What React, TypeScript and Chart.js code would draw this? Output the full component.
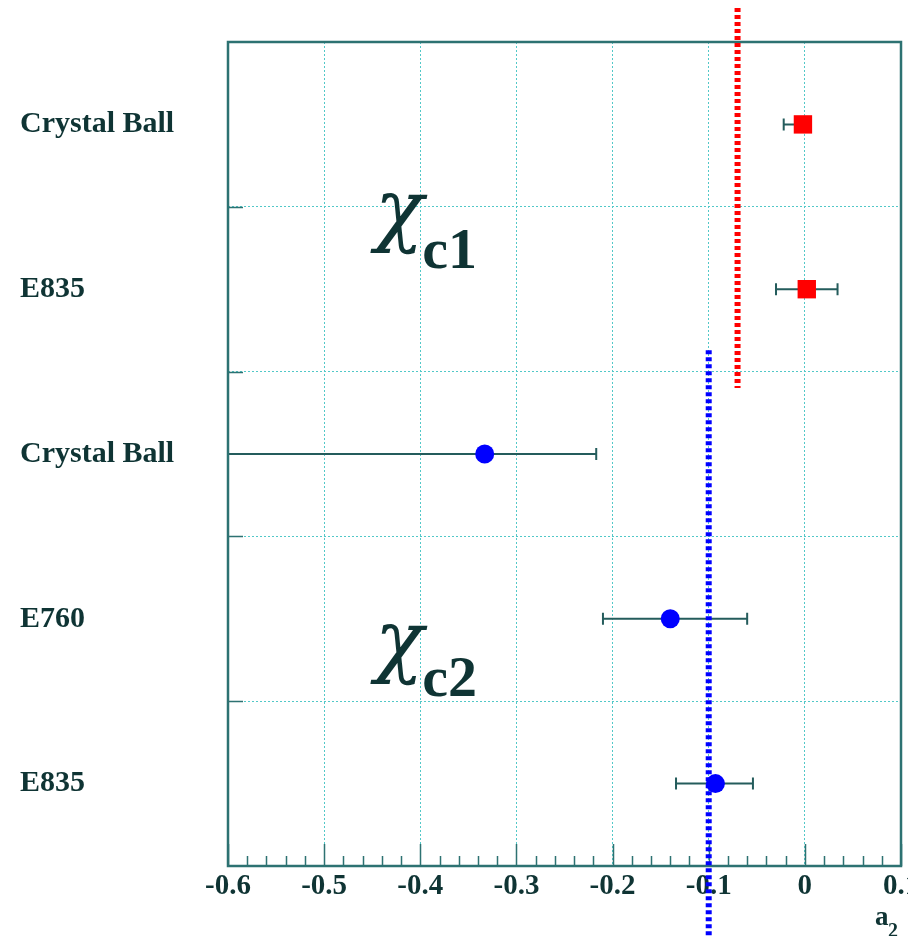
import React, { useEffect, useRef } from "react";
import { Chart, registerables } from "chart.js";

Chart.register(...registerables);

// ---- data ----
const categories = ["Crystal Ball", "E835", "Crystal Ball", "E760", "E835"];

const chic1Rows = [0, 1];
const chic1Values = [-0.002, 0.002];
const chic1ErrMinus = [0.02, 0.032];
const chic1ErrPlus = [0.008, 0.032];

const chic2Rows = [2, 3, 4];
const chic2Values = [-0.333, -0.14, -0.093];
const chic2ErrMinus = [0.292, 0.07, 0.041];
const chic2ErrPlus = [0.116, 0.08, 0.039];

const xMin = -0.6;
const xMax = 0.1;
const xStep = 0.1;
const xMinorStep = 0.02;

// reference lines: x value and vertical extent (row units, 0 = top of frame)
const redLineX = -0.07;
const redLineEndRow = 2.1;
const blueLineX = -0.1;
const blueLineStartRow = 1.87;

// annotations
const annotations = [
  { main: "χ", sub: "c1", x: -0.447, subX: -0.398, row: 1.18, subRow: 1.37 },
  { main: "χ", sub: "c2", x: -0.447, subX: -0.398, row: 3.79, subRow: 3.97 },
];

const TEXT = "#0f3434";
const FRAME = "#2d7272";
const ERR = "#245c5c";
const GRID = "#52c8c8";

function fmt(v: number) {
  if (Math.abs(v) < 1e-9) return "0";
  return (+v).toFixed(1);
}

const overlayPlugin = {
  id: "overlay",
  beforeDatasetsDraw(chart: any) {
    const ctx = chart.ctx;
    const xs = chart.scales.x;
    const area = chart.chartArea;
    ctx.save();
    ctx.beginPath();
    ctx.rect(area.left, area.top, area.right - area.left, area.bottom - area.top);
    ctx.clip();
    ctx.strokeStyle = ERR;
    ctx.lineWidth = 2;
    chart.data.datasets.forEach((ds: any, di: number) => {
      const meta = chart.getDatasetMeta(di);
      meta.data.forEach((pt: any, i: number) => {
        const v = ds.data[i].x;
        const lo = xs.getPixelForValue(v - ds.errMinus[i]);
        const hi = xs.getPixelForValue(v + ds.errPlus[i]);
        const y = pt.y;
        ctx.beginPath();
        ctx.moveTo(lo, y);
        ctx.lineTo(hi, y);
        ctx.moveTo(lo, y - 6);
        ctx.lineTo(lo, y + 6);
        ctx.moveTo(hi, y - 6);
        ctx.lineTo(hi, y + 6);
        ctx.stroke();
      });
    });
    ctx.restore();
  },
  afterDraw(chart: any) {
    const ctx = chart.ctx;
    const xs = chart.scales.x;
    const ys = chart.scales.yv;
    const a = chart.chartArea;
    ctx.save();
    // frame
    ctx.strokeStyle = FRAME;
    ctx.lineWidth = 2.5;
    ctx.strokeRect(a.left, a.top, a.right - a.left, a.bottom - a.top);
    // x ticks (inward)
    ctx.lineWidth = 1.5;
    ctx.beginPath();
    const nMinor = Math.round((xMax - xMin) / xMinorStep);
    const perMajor = Math.round(xStep / xMinorStep);
    for (let i = 0; i <= nMinor; i++) {
      const v = xMin + i * xMinorStep;
      const px = Math.round(xs.getPixelForValue(v)) + 0.5;
      const len = i % perMajor === 0 ? 22 : 10;
      ctx.moveTo(px, a.bottom);
      ctx.lineTo(px, a.bottom - len);
    }
    // y ticks at row boundaries
    for (let r = 1; r < categories.length; r++) {
      const py = Math.round(ys.getPixelForValue(r)) + 0.5;
      ctx.moveTo(a.left, py);
      ctx.lineTo(a.left + 15, py);
    }
    ctx.stroke();

    // annotations
    ctx.fillStyle = TEXT;
    ctx.textBaseline = "alphabetic";
    ctx.textAlign = "left";
    annotations.forEach((an) => {
      ctx.font = 'italic 80px "DejaVu Serif"';
      ctx.fillText(an.main, xs.getPixelForValue(an.x), ys.getPixelForValue(an.row));
      ctx.font = 'bold 58px "Liberation Serif"';
      ctx.fillText(an.sub, xs.getPixelForValue(an.subX), ys.getPixelForValue(an.subRow));
    });

    // axis title a_2
    ctx.textAlign = "left";
    ctx.font = 'bold 27px "Liberation Serif"';
    ctx.fillText("a", a.right - 26, a.bottom + 59);
    ctx.font = 'bold 20px "Liberation Serif"';
    ctx.fillText("2", a.right - 13, a.bottom + 71);

    // dashed reference lines
    ctx.lineWidth = 6;
    ctx.setLineDash([4, 3]);
    ctx.strokeStyle = "#ff0000";
    let px = xs.getPixelForValue(redLineX);
    ctx.beginPath();
    ctx.moveTo(px, 0);
    ctx.lineTo(px, ys.getPixelForValue(redLineEndRow));
    ctx.stroke();
    ctx.strokeStyle = "#0000ff";
    px = xs.getPixelForValue(blueLineX);
    ctx.beginPath();
    ctx.moveTo(px, ys.getPixelForValue(blueLineStartRow));
    ctx.lineTo(px, chart.height);
    ctx.stroke();
    ctx.restore();
  },
};

export default function App() {
  const ref = useRef<HTMLCanvasElement | null>(null);
  useEffect(() => {
    document.documentElement.style.overflow = "hidden";
    const canvas = ref.current;
    if (!canvas) return;
    const tickFont = { family: '"Liberation Serif", "Times New Roman", serif', size: 29, weight: "bold" as const };
    const chart = new Chart(canvas, {
      type: "scatter",
      data: {
        datasets: [
          {
            label: "chi_c1",
            data: chic1Values.map((v, i) => ({ x: v, y: chic1Rows[i] + 0.5 })),
            errMinus: chic1ErrMinus,
            errPlus: chic1ErrPlus,
            yAxisID: "yv",
            pointStyle: "rect",
            pointRadius: 13,
            pointHoverRadius: 13,
            backgroundColor: "#ff0000",
            borderColor: "#ff0000",
            borderWidth: 0,
          } as any,
          {
            label: "chi_c2",
            data: chic2Values.map((v, i) => ({ x: v, y: chic2Rows[i] + 0.5 })),
            errMinus: chic2ErrMinus,
            errPlus: chic2ErrPlus,
            yAxisID: "yv",
            pointStyle: "circle",
            pointRadius: 9.5,
            pointHoverRadius: 9.5,
            backgroundColor: "#0000ff",
            borderColor: "#0000ff",
            borderWidth: 0,
          } as any,
        ],
      },
      options: {
        animation: false,
        responsive: false,
        maintainAspectRatio: false,
        layout: { padding: { left: 12, right: 15, top: 34, bottom: 0 } },
        plugins: { legend: { display: false }, tooltip: { enabled: false } },
        scales: {
          x: {
            type: "linear",
            min: xMin,
            max: xMax,
            ticks: {
              stepSize: xStep,
              callback: (v: any) => fmt(Number(v)),
              font: tickFont,
              color: TEXT,
              padding: 3,
              maxRotation: 0,
              autoSkip: false,
            },
            grid: { color: GRID, lineWidth: 1, drawTicks: false },
            border: { display: false, dash: [2, 2] },
            afterFit: (s: any) => {
              s.height = 78;
              s.paddingLeft = 0;
              s.paddingRight = 0;
            },
          },
          y: {
            type: "category",
            labels: categories,
            offset: true,
            ticks: {
              crossAlign: "far",
              font: { ...tickFont, size: 30 },
              color: TEXT,
              autoSkip: false,
            },
            grid: { offset: true, color: GRID, lineWidth: 1, drawTicks: false },
            border: { display: false, dash: [2, 2] },
            afterFit: (s: any) => {
              s.width = 208;
              s.paddingTop = 0;
              s.paddingBottom = 0;
            },
          },
          yv: {
            type: "linear",
            min: 0,
            max: categories.length,
            reverse: true,
            display: false,
          },
        },
      } as any,
      plugins: [overlayPlugin],
    });
    return () => chart.destroy();
  }, []);
  return (
    <div style={{ marginBottom: -8 }}>
      <canvas ref={ref} width={908} height={936} style={{ display: "block", width: 908, height: 936 }} />
    </div>
  );
}
